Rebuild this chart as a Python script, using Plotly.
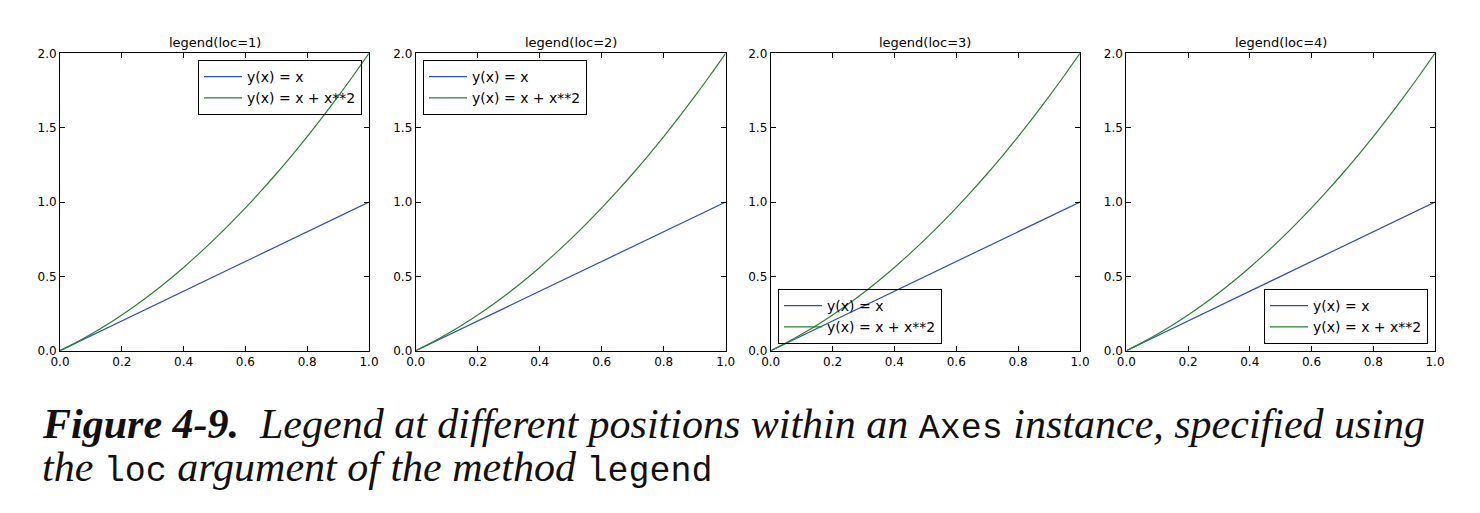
import plotly.graph_objects as go

# data
x_vals = [0.0, 0.05, 0.1, 0.15, 0.2, 0.25, 0.3, 0.35, 0.4, 0.45, 0.5,
          0.55, 0.6, 0.65, 0.7, 0.75, 0.8, 0.85, 0.9, 0.95, 1.0]
y_linear = [0.0, 0.05, 0.1, 0.15, 0.2, 0.25, 0.3, 0.35, 0.4, 0.45, 0.5,
            0.55, 0.6, 0.65, 0.7, 0.75, 0.8, 0.85, 0.9, 0.95, 1.0]
y_quad = [0.0, 0.0525, 0.11, 0.1725, 0.24, 0.3125, 0.39, 0.4725, 0.56, 0.6525, 0.75,
          0.8525, 0.96, 1.0725, 1.19, 1.3125, 1.44, 1.5725, 1.71, 1.8525, 2.0]
series_names = ["y(x) = x", "y(x) = x + x**2"]
panel_titles = ["legend(loc=1)", "legend(loc=2)", "legend(loc=3)", "legend(loc=4)"]
x_ticks = [0.0, 0.2, 0.4, 0.6, 0.8, 1.0]
y_ticks = [0.0, 0.5, 1.0, 1.5, 2.0]

W, H = 1480, 513
OFF = 8  # page body margin compensation
BLUE = "#2a4fb0"
GREEN = "#2a8032"


def px_x(v):
    return (v - OFF) / W


def px_y(v):
    return 1 - (v - OFF) / H


x_domains_px = [(60, 369), (415.7, 725.7), (770.7, 1080), (1126.3, 1435)]
y_top_px, y_bot_px = 53.3, 350.7
ydom = [px_y(y_bot_px), px_y(y_top_px)]

legend_specs = [
    dict(x=px_x(362), xanchor="right", y=px_y(60), yanchor="top"),
    dict(x=px_x(423), xanchor="left", y=px_y(60), yanchor="top"),
    dict(x=px_x(778), xanchor="left", y=px_y(344), yanchor="bottom"),
    dict(x=px_x(1428), xanchor="right", y=px_y(344), yanchor="bottom"),
]

fig = go.Figure()
layout = dict(
    width=W, height=H,
    margin=dict(l=0, r=0, t=0, b=0, autoexpand=False),
    paper_bgcolor="white", plot_bgcolor="white",
    font=dict(family="DejaVu Sans", size=12, color="black"),
    annotations=[],
)

for i in range(4):
    n = i + 1
    xa = "x" if n == 1 else f"x{n}"
    ya = "y" if n == 1 else f"y{n}"
    lg = "legend" if n == 1 else f"legend{n}"
    fig.add_trace(go.Scatter(x=x_vals, y=y_linear, mode="lines", name=series_names[0],
                             line=dict(color=BLUE, width=1.2), xaxis=xa, yaxis=ya, legend=lg))
    fig.add_trace(go.Scatter(x=x_vals, y=y_quad, mode="lines", name=series_names[1],
                             line=dict(color=GREEN, width=1.2, shape="spline"),
                             xaxis=xa, yaxis=ya, legend=lg))
    x0, x1 = x_domains_px[i]
    axis_common = dict(showline=True, linecolor="black", linewidth=1, mirror="ticks",
                       ticks="inside", ticklen=5, tickcolor="black", tickwidth=1,
                       showgrid=False, zeroline=False, tickformat=".1f", automargin=False,
                       tickfont=dict(family="DejaVu Sans", size=12, color="black"))
    layout["xaxis" if n == 1 else f"xaxis{n}"] = dict(
        domain=[px_x(x0), px_x(x1)], range=[0, 1], tickvals=x_ticks,
        anchor=ya, **axis_common)
    layout["yaxis" if n == 1 else f"yaxis{n}"] = dict(
        domain=ydom, range=[0, 2], tickvals=y_ticks,
        anchor=xa, **axis_common)
    layout[lg] = dict(**legend_specs[i], bgcolor="rgba(0,0,0,0)", bordercolor="black",
                      borderwidth=1, font=dict(family="DejaVu Sans", size=14, color="black"),
                      traceorder="normal", itemwidth=38)
    layout["annotations"].append(dict(
        text=panel_titles[i], xref="paper", yref="paper",
        x=px_x((x0 + x1) / 2), y=ydom[1], xanchor="center", yanchor="bottom",
        yshift=1, showarrow=False, font=dict(family="DejaVu Sans", size=13, color="black")))

mono = "font-family:'Liberation Mono';font-style:normal;font-size:35px"
line1 = ("<b><i>Figure 4-9.</i></b>  <i>Legend at different positions within an </i>"
         f"<span style=\"{mono}\">Axes</span><i> instance, specified using</i>")
line2 = (f"<i>the </i><span style=\"{mono}\">loc</span><i> argument of the method </i>"
         f"<span style=\"{mono}\">legend</span>")
for txt, ypx in [(line1, 425), (line2, 468)]:
    layout["annotations"].append(dict(
        text=txt, xref="paper", yref="paper", x=px_x(40), y=px_y(ypx),
        xanchor="left", yanchor="middle", showarrow=False,
        font=dict(family="Liberation Serif", size=42, color="#111111")))

fig.update_layout(**layout)
fig.write_html("out.html")
